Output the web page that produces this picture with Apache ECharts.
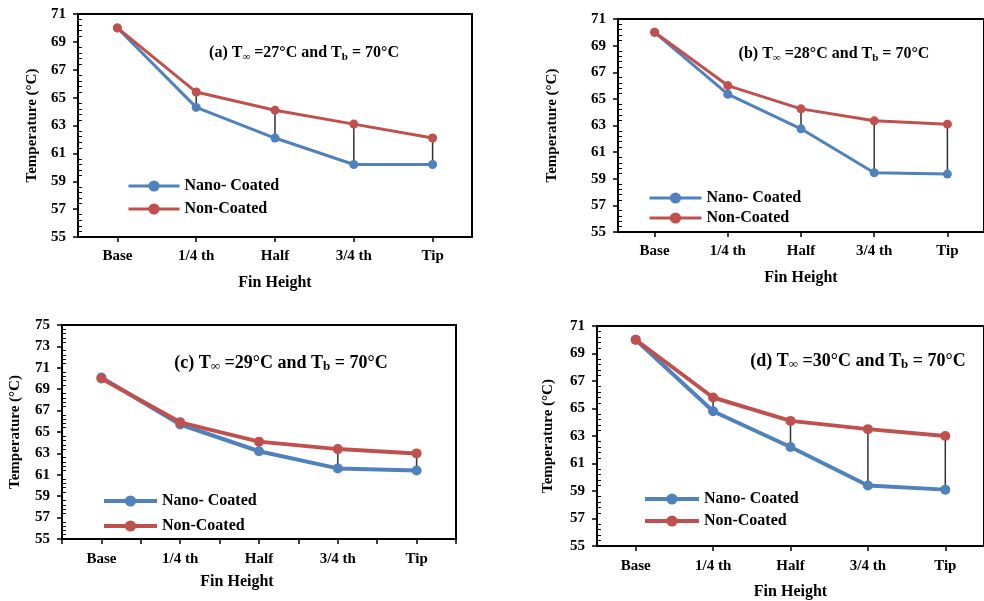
<!DOCTYPE html>
<html>
<head>
<meta charset="utf-8">
<script src="https://cdn.jsdelivr.net/npm/echarts@6/dist/echarts.min.js"></script>
<style>
  html, body { margin: 0; padding: 0; background: #fff; }
  #chart { width: 984px; height: 601px; }
</style>
</head>
<body>
<div id="chart"></div>
<script>
// categories along the fin
const categories = ["Base", "1/4 th", "Half", "3/4 th", "Tip"];

// (a) T∞ = 27°C
const nanoA = [70, 64.3, 62.1, 60.2, 60.2];
const nonA = [70, 65.4, 64.1, 63.1, 62.1];
// (b) T∞ = 28°C
const nanoB = [70, 65.35, 62.75, 59.45, 59.35];
const nonB = [70, 66.0, 64.25, 63.35, 63.1];
// (c) T∞ = 29°C
const nanoC = [70.1, 65.7, 63.2, 61.6, 61.4];
const nonC = [70.0, 65.9, 64.1, 63.4, 63.0];
// (d) T∞ = 30°C
const nanoD = [70, 64.8, 62.2, 59.4, 59.1];
const nonD = [70, 65.8, 64.1, 63.5, 63.0];

// y axis ranges
const yRangeABD = [55, 71];
const yRangeC = [55, 75];
const yStep = 2;

const FONT = "'Liberation Serif', 'Times New Roman', serif";
const BLUE = "#4f81bd";
const RED = "#c0504d";

// layout of each panel
const panels = [
  { nano: nanoA, non: nonA, y: yRangeABD, grid: { left: 78, top: 14, width: 394, height: 223 },
    title: "(a) T{s|∞} =27°C and T{s|b} = 70°C", tx: 304, ty: 43, tSize: 16,
    legend: { left: 127, top: 178, gap: 7, w: 51 }, lw: 3, sym: 9, labMargin: 12, xGap: 38, yGap: 38, boundaryTicks: false },
  { nano: nanoB, non: nonB, y: yRangeABD, grid: { left: 618, top: 19, width: 374, height: 213 },
    title: "(b) T{s|∞} =28°C and T{s|b} = 70°C", tx: 834, ty: 44, tSize: 16,
    legend: { left: 648, top: 190, gap: 4, w: 52 }, lw: 3, sym: 9, labMargin: 12, xGap: 38, yGap: 58, boundaryTicks: false },
  { nano: nanoC, non: nonC, y: yRangeC, grid: { left: 62, top: 325, width: 394, height: 214 },
    title: "(c) T{s|∞} =29°C and T{s|b} = 70°C", tx: 281, ty: 353, tSize: 18,
    legend: { left: 102, top: 493, gap: 9, w: 53 }, lw: 4, sym: 10, labMargin: 13, xGap: 35, yGap: 39, boundaryTicks: true, xNamePad: [0, 44, 0, 0] },
  { nano: nanoD, non: nonD, y: yRangeABD, grid: { left: 597, top: 326, width: 394, height: 220 },
    title: "(d) T{s|∞} =30°C and T{s|b} = 70°C", tx: 858, ty: 351, tSize: 18,
    legend: { left: 643, top: 491, gap: 6, w: 54 }, lw: 4, sym: 10, labMargin: 13, xGap: 38, yGap: 41, boundaryTicks: false }
];

const grid = [], xAxis = [], yAxis = [], series = [], legend = [], title = [];

panels.forEach(function (p) {
  const main = grid.length;
  grid.push(Object.assign({ show: true, borderColor: "#000", borderWidth: 2, backgroundColor: "transparent" }, p.grid));
  // overlay grid for inner minor ticks / extra ticks
  const over = grid.length;
  grid.push(Object.assign({ show: false }, p.grid));

  const xi = xAxis.length;
  xAxis.push({
    type: "category", gridIndex: main, data: categories,
    name: "Fin Height", nameLocation: "middle", nameGap: p.xGap,
    nameTextStyle: { fontFamily: FONT, fontWeight: "bold", fontSize: 16, color: "#000", padding: p.xNamePad || 0 },
    axisLine: { lineStyle: { color: "#000", width: 2 } },
    axisTick: { show: true, alignWithLabel: !p.boundaryTicks, length: 5, lineStyle: { color: "#000", width: 1.5 } },
    axisLabel: { fontFamily: FONT, fontWeight: "bold", fontSize: 15, color: "#000", margin: p.labMargin, interval: 0 }
  });
  xAxis.push({
    type: "category", gridIndex: over, data: categories,
    axisLine: { show: false }, axisLabel: { show: false },
    axisTick: { show: p.boundaryTicks, alignWithLabel: true, length: 5, lineStyle: { color: "#000", width: 1.5 } }
  });

  const yi = yAxis.length;
  yAxis.push({
    type: "value", gridIndex: main, min: p.y[0], max: p.y[1], interval: yStep,
    name: "Temperature (°C)", nameLocation: "middle", nameRotate: 90, nameGap: p.yGap,
    nameTextStyle: { fontFamily: FONT, fontWeight: "bold", fontSize: 15, color: "#000" },
    splitLine: { show: false },
    axisLine: { show: true, lineStyle: { color: "#000", width: 2 } },
    axisTick: { show: true, length: 5, lineStyle: { color: "#000", width: 1.5 } },
    axisLabel: { fontFamily: FONT, fontWeight: "bold", fontSize: 15, color: "#000", margin: 12 }
  });
  yAxis.push({
    type: "value", gridIndex: over, min: p.y[0], max: p.y[1], interval: yStep,
    splitLine: { show: false }, axisLine: { show: false }, axisLabel: { show: false },
    axisTick: { show: false, inside: true },
    minorTick: { show: true, splitNumber: 5, length: 4, lineStyle: { color: "#000", width: 1 } },
    minorSplitLine: { show: false }
  });

  // high-low lines between the two series
  series.push({
    type: "custom", xAxisIndex: xi, yAxisIndex: yi, z: 1, silent: true,
    data: categories.map(function (c, k) { return [k, p.nano[k], p.non[k]]; }),
    encode: { x: 0, y: [1, 2] },
    renderItem: function (params, api) {
      const a = api.coord([api.value(0), api.value(1)]);
      const b = api.coord([api.value(0), api.value(2)]);
      return { type: "line", shape: { x1: a[0], y1: a[1], x2: b[0], y2: b[1] }, style: { stroke: "#333", lineWidth: 1.5 } };
    }
  });
  series.push({
    name: "Nano- Coated", type: "line", xAxisIndex: xi, yAxisIndex: yi, data: p.nano, z: 3,
    symbol: "circle", symbolSize: p.sym, color: BLUE,
    lineStyle: { color: BLUE, width: p.lw }, itemStyle: { color: BLUE }
  });
  series.push({
    name: "Non-Coated", type: "line", xAxisIndex: xi, yAxisIndex: yi, data: p.non, z: 4,
    symbol: "circle", symbolSize: p.sym, color: RED,
    lineStyle: { color: RED, width: p.lw }, itemStyle: { color: RED }
  });

  legend.push({
    data: ["Nano- Coated", "Non-Coated"], orient: "vertical", padding: 0,
    left: p.legend.left, top: p.legend.top, itemGap: p.legend.gap,
    itemWidth: p.legend.w, itemHeight: 14, selectedMode: false,
    lineStyle: { width: p.lw },
    textStyle: { fontFamily: FONT, fontWeight: "bold", fontSize: 16, color: "#000" }
  });

  title.push({
    text: p.title, left: p.tx, top: p.ty, textAlign: "center", padding: 0,
    textStyle: {
      fontFamily: FONT, fontWeight: "bold", fontSize: p.tSize, color: "#000", lineHeight: 20,
      rich: { s: { fontFamily: FONT, fontWeight: "bold", fontSize: p.tSize - 5, lineHeight: 12, verticalAlign: "bottom", color: "#000" } }
    }
  });
});

const chart = echarts.init(document.getElementById("chart"), null, { renderer: "canvas" });
chart.setOption({
  animation: false,
  backgroundColor: "#fff",
  title: title,
  legend: legend,
  grid: grid,
  xAxis: xAxis,
  yAxis: yAxis,
  series: series
});
</script>
</body>
</html>
